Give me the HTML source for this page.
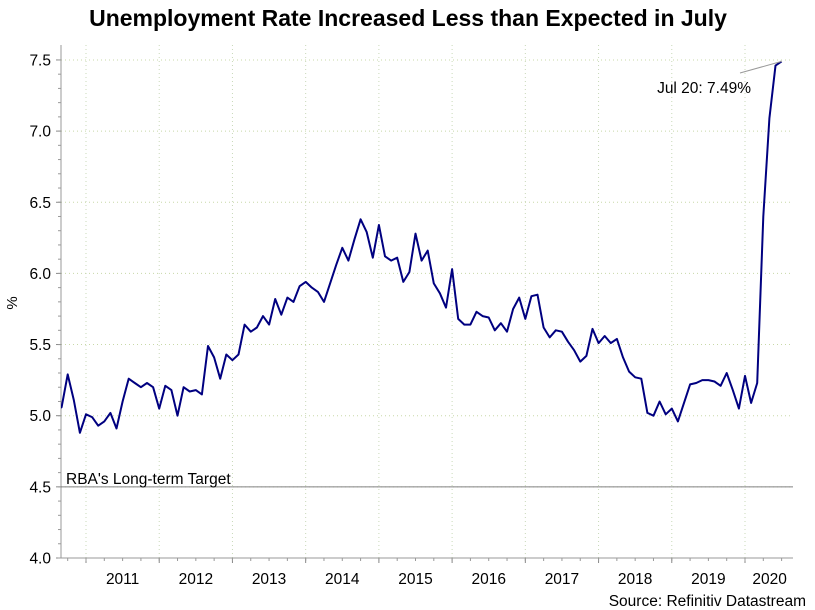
<!DOCTYPE html>
<html><head><meta charset="utf-8"><style>
body{margin:0;background:#fff;}
svg{display:block;font-family:"Liberation Sans",Arial,sans-serif;}
</style></head><body>
<svg width="815" height="610">
<text x="408" y="26" text-anchor="middle" font-size="23" font-weight="bold">Unemployment Rate Increased Less than Expected in July</text>
<text transform="translate(17,303) rotate(-90)" text-anchor="middle" font-size="15">%</text>
<g id="grid"></g>
<g id="axes"></g>
<g id="series"></g>
<text x="806" y="606" text-anchor="end" font-size="15.5">Source: Refinitiv Datastream</text>
</svg>
<script>
const startYear = 2010, startMonth = 8; // Aug 2010
const rates = [5.04,5.06,5.29,5.11,4.88,5.01,4.99,4.93,4.96,5.02,4.91,5.10,5.26,5.23,5.20,5.23,5.20,5.05,5.21,5.18,5.00,5.20,5.17,5.18,5.15,5.49,5.41,5.26,5.43,5.39,5.43,5.64,5.59,5.62,5.70,5.64,5.82,5.71,5.83,5.80,5.91,
5.94,5.90,5.87,5.80,5.93,6.06,6.18,6.09,6.24,6.38,6.29,6.11,6.34,6.12,6.09,6.11,5.94,6.01,6.28,6.09,6.16,5.93,5.86,5.76,6.03,5.68,5.64,5.64,5.73,5.70,5.69,5.60,5.65,5.59,5.75,5.83,5.68,5.84,5.85,
5.62,5.55,5.60,5.59,5.52,5.46,5.38,5.42,5.61,5.51,5.56,5.51,5.54,5.41,5.31,5.27,5.26,5.02,5.00,5.10,5.01,5.05,4.96,5.09,5.22,5.23,5.25,5.25,5.24,5.21,5.30,5.18,5.05,5.28,5.09,5.23,6.40,7.09,7.46,7.49];
const yTicks = [4.0,4.5,5.0,5.5,6.0,6.5,7.0,7.5];
const yearLabels = [2011,2012,2013,2014,2015,2016,2017,2018,2019,2020];
const targetRate = 4.5;
const annotationText = "Jul 20: 7.49%";

const NS="http://www.w3.org/2000/svg";
const L=61,R=793,T=45,B=558;
const y=v=>558-(v-4.0)*142.3;
const pxPerMonth=(745-86)/108;
const x=m=>86+m*pxPerMonth;
function mk(tag,attrs,parent){const e=document.createElementNS(NS,tag);for(const k in attrs)e.setAttribute(k,attrs[k]);parent.appendChild(e);return e;}
const grid=document.getElementById('grid'),axes=document.getElementById('axes'),series=document.getElementById('series');
yTicks.forEach(v=>{
  if(v>4.0){const g=mk('line',{x1:L,x2:R,y1:y(v),y2:y(v),stroke:'#c8d8a8','stroke-width':1,'stroke-dasharray':'1,3'},grid);
  
  }
  const t=mk('text',{x:51,y:y(v)+5.5,'text-anchor':'end','font-size':15.5},axes);t.textContent=v.toFixed(1);
  
  
  mk('line',{x1:L-5,x2:L,y1:y(v),y2:y(v),stroke:'#888'},axes);
});
for(let v=4.0;v<=7.55;v+=0.1){mk('line',{x1:L-3,x2:L,y1:y(v),y2:y(v),stroke:'#999'},axes);}
yearLabels.forEach((yr,i)=>{
  const xs=x(i*12);
  const g=mk('line',{x1:xs,x2:xs,y1:T,y2:B,stroke:'#c8d8b8','stroke-width':1,'stroke-dasharray':'1,3'},grid);
  
  
  mk('line',{x1:xs,x2:xs,y1:B,y2:B+5,stroke:'#888'},axes);
  const t=mk('text',{x:i===9?x(i*12+6)-12:x(i*12+6),y:584,'text-anchor':'middle','font-size':15.5},axes);t.textContent=yr;
  
  
});
for(let m=-3;m<=120;m+=3){const xs=x(m);if(xs>=L&&xs<=R)mk('line',{x1:xs,x2:xs,y1:B,y2:B+3,stroke:'#999'},axes);}
mk('line',{x1:L,x2:L,y1:T,y2:B,stroke:'#999'},axes);
mk('line',{x1:L,x2:R,y1:B,y2:B,stroke:'#999'},axes);
const tl=mk('line',{x1:L,x2:R,y1:y(targetRate),y2:y(targetRate),stroke:'#808080','stroke-width':1},series);


const tt=mk('text',{x:66,y:y(targetRate)-3,'font-size':15.5},series);tt.textContent="RBA's Long-term Target";


const defs=mk('defs',{},series);const cp=mk('clipPath',{id:'clip'},defs);mk('rect',{x:L,y:T,width:R-L,height:B-T},cp);
const off=(startYear-2011)*12+(startMonth-1);
const pts=rates.map((v,i)=>x(off+i).toFixed(1)+','+y(v).toFixed(1)).join(' ');
const pl=mk('polyline',{points:pts,fill:'none',stroke:'#000080','stroke-width':2,'stroke-linejoin':'round','clip-path':'url(#clip)'},series);


const lx=x(off+rates.length-1),ly=y(rates[rates.length-1]);
const al=mk('line',{x1:740,y1:73,x2:lx,y2:ly,stroke:'#999'},series);


const at=mk('text',{x:751,y:93,'text-anchor':'end','font-size':15.5},series);at.textContent=annotationText;


</script>
</body></html>
